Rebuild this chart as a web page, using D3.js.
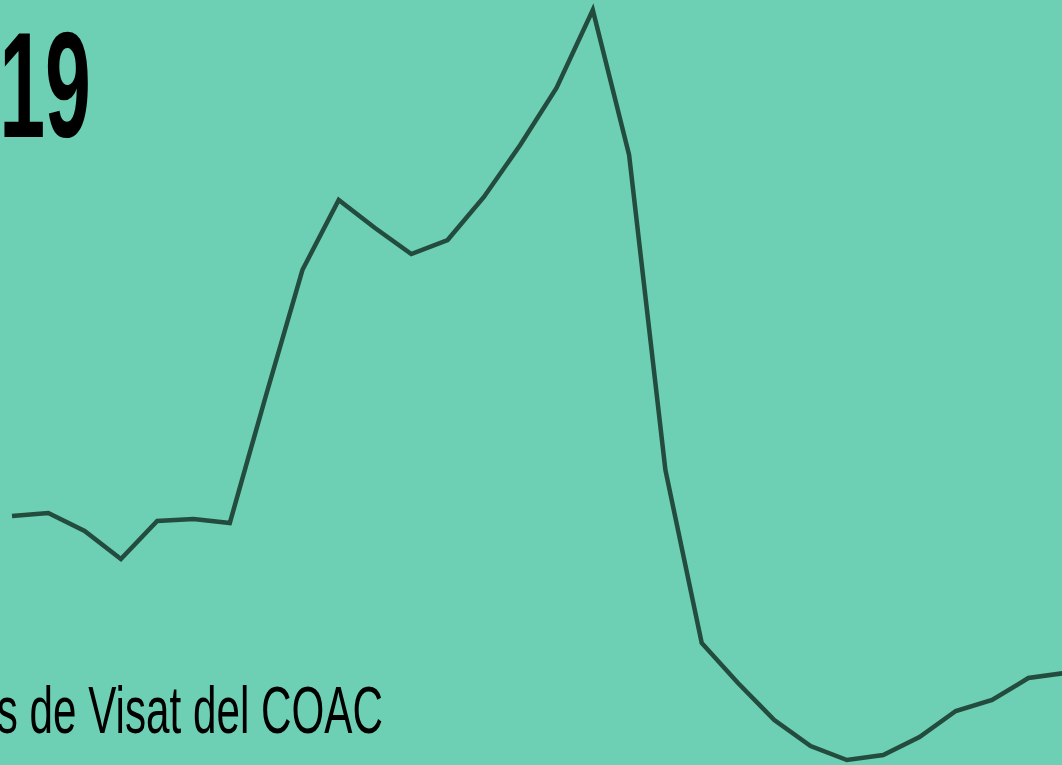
<!DOCTYPE html>
<html>
<head>
<meta charset="utf-8">
<script src="https://cdn.jsdelivr.net/npm/d3@7"></script>
<style>
  html, body { margin: 0; padding: 0; background: #6dcfb3; overflow: hidden; }
</style>
</head>
<body>
<div class="chart"></div>
<script>
const width = 1062
const height = 765

// visats per period
const periods = d3.range(30)
const visats = [249, 252, 234, 206, 244, 246, 242, 370, 495, 565,
                537, 511, 525, 568, 620, 677, 755, 610, 295, 122,
                82, 45, 19, 5, 10, 28, 54, 65, 87, 92]
const titleText = "19"
const sourceText = "Dades de Visat del COAC"

const svg = d3.select('.chart').append('svg')
    .attr("width", width)
    .attr("height", height)
    .attr("viewBox", [0, 0, width, height])

svg.append("rect")
    .attr("width", width)
    .attr("height", height)
    .attr("fill", "#6dcfb3")

const x = d3.scaleLinear()
    .domain([0, periods.length - 1])
    .range([12, 12 + 29 * 36.3])

const y = d3.scaleLinear()
    .domain([0, 765])
    .range([765, 0])

const line = d3.line()
    .x((d, i) => x(periods[i]))
    .y(d => y(d))

svg.append("path")
    .datum(visats)
    .attr("d", line)
    .attr("fill", "none")
    .attr("stroke", "#234b3e")
    .attr("stroke-width", 4.5)
    .attr("stroke-linejoin", "miter")

// big year title
svg.append("g")
    .attr("transform", "translate(91,137) scale(0.55,1)")
    .append("text")
    .attr("text-anchor", "end")
    .attr("font-family", "Liberation Sans, Arial, sans-serif")
    .attr("font-weight", "bold")
    .attr("font-size", 150)
    .attr("fill", "#000")
    .text(titleText)

// source line, cut by the left edge as in the original
svg.append("g")
    .attr("transform", "translate(383,733) scale(0.63,1)")
    .append("text")
    .attr("text-anchor", "end")
    .attr("font-family", "Liberation Sans, Arial, sans-serif")
    .attr("font-size", 67)
    .attr("fill", "#000")
    .text(sourceText)
</script>
</body>
</html>
